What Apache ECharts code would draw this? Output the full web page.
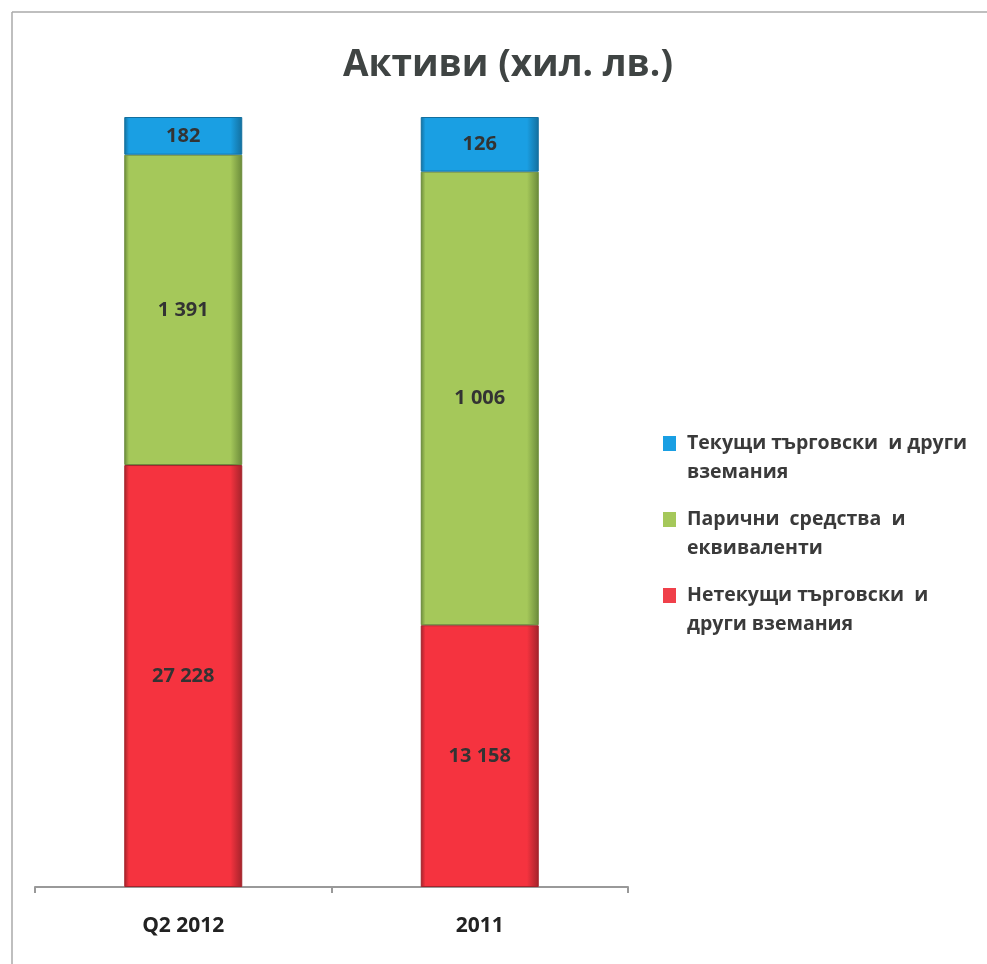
<!DOCTYPE html>
<html>
<head>
<meta charset="utf-8">
<script src="https://cdn.jsdelivr.net/npm/echarts@6/dist/echarts.min.js"></script>
<style>html,body{margin:0;padding:0;background:#fff}#c{width:987px;height:964px}</style>
</head>
<body>
<div id="c"></div>
<script>
// Categories
const categories = ['Q2 2012', '2011'];
// Series names (legend, top to bottom)
const seriesNames = [
  'Текущи търговски  и други\nвземания',
  'Парични  средства  и\nеквиваленти',
  'Нетекущи търговски  и\nдруги вземания'
];
// Printed values (хил. лв.)
const currentReceivables = [182, 126];
const cashEquivalents = [1391, 1006];
const nonCurrentReceivables = [27228, 13158];
// Segment heights as drawn in the picture (share of bar, %)
const currentShare = [4.9, 7.1];
const cashShare = [40.3, 58.9];
const nonCurrentShare = [54.8, 34.0];

const FONT = '"Open Sans", "Noto Sans", sans-serif';
// legend marker: square on the first text line (tiny anchor point at the bottom-right keeps the box size)
const MARKER = 'path://M0,0H13V15H0Z M18.99,43.99H19V44H18.99Z';
function fmt(v) { return String(v).replace(/\B(?=(\d{3})+(?!\d))/g, ' '); }
function grad(base, dark) {
  return new echarts.graphic.LinearGradient(0, 0, 1, 0, [
    { offset: 0, color: dark }, { offset: 0.04, color: base },
    { offset: 0.9, color: base }, { offset: 1, color: dark }
  ]);
}
function mk(name, heights, printed, base, dark) {
  return {
    name: name, type: 'bar', stack: 'total', barWidth: 118,
    data: heights.map(function (h, i) { return { value: h, printed: printed[i] }; }),
    itemStyle: { color: grad(base, dark), borderColor: dark, borderWidth: 1 },
    label: {
      show: true, position: 'inside', color: '#333', fontFamily: FONT,
      fontWeight: 'bold', fontSize: 20,
      formatter: function (p) { return fmt(p.data.printed); }
    },
    emphasis: { disabled: true }
  };
}
const chart = echarts.init(document.getElementById('c'));
chart.setOption({
  animation: false,
  backgroundColor: '#fff',
  title: {
    text: 'Активи (хил. лв.)', left: 503, textAlign: 'center', top: 42,
    textStyle: { fontFamily: FONT, fontWeight: 'bold', fontSize: 37, color: '#3f4443' }
  },
  legend: {
    orient: 'vertical', left: 663, top: 429, itemGap: 18, padding: 0,
    itemWidth: 19, itemHeight: 44, symbolKeepAspect: false,
    itemStyle: { borderWidth: 0 },
    data: [
      { name: seriesNames[0], icon: MARKER, itemStyle: { color: '#1a9fe3' } },
      { name: seriesNames[1], icon: MARKER, itemStyle: { color: '#a5c85a' } },
      { name: seriesNames[2], icon: MARKER, itemStyle: { color: '#f0404a' } }
    ],
    textStyle: { fontFamily: FONT, fontWeight: 'bold', fontSize: 19.5, color: '#3a3a3a', lineHeight: 29 }
  },
  grid: { left: 35, right: 359, top: 117, bottom: 77 },
  xAxis: {
    type: 'category', data: categories,
    axisLine: { lineStyle: { color: '#999', width: 2 } },
    axisTick: { show: true, length: 6, lineStyle: { color: '#999', width: 2 } },
    axisLabel: { fontFamily: FONT, fontWeight: 'bold', fontSize: 21, color: '#222', margin: 29 }
  },
  yAxis: { type: 'value', min: 0, max: 100, show: false, splitLine: { show: false } },
  series: [
    mk(seriesNames[2], nonCurrentShare, nonCurrentReceivables, '#f5333f', '#a3232b'),
    mk(seriesNames[1], cashShare, cashEquivalents, '#a5c85a', '#6a8a3a'),
    mk(seriesNames[0], currentShare, currentReceivables, '#1a9fe3', '#136f9e')
  ],
  graphic: [
    { type: 'line', shape: { x1: 12, y1: 12, x2: 987, y2: 12 }, style: { stroke: '#aaa', lineWidth: 1.5 } },
    { type: 'line', shape: { x1: 12, y1: 12, x2: 12, y2: 964 }, style: { stroke: '#aaa', lineWidth: 1.5 } }
  ]
});
</script>
</body>
</html>
